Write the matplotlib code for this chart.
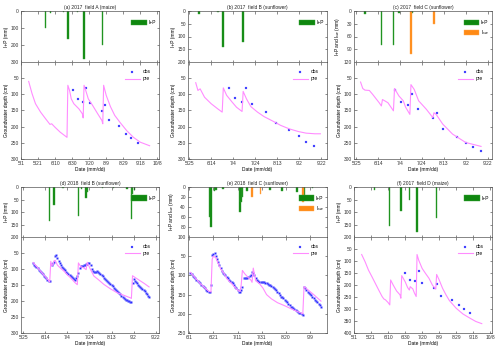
import matplotlib
matplotlib.use('Agg')
import matplotlib.pyplot as plt
import pandas as pd
from matplotlib.patches import Patch
from matplotlib.lines import Line2D

plt.rcParams['font.family'] = ['Liberation Sans', 'DejaVu Sans']
FS = 3.5

GREEN = '#0f870f'
ORANGE = '#ff8a14'
BLUE = '#2a2aff'
PINK = '#ff8cff'

# ---------------- (a) 2017 field A (maize) ----------------
a_ip_dates = ['05-30', '06-05', '06-20', '06-25', '07-06', '07-14', '08-05']
a_ip = [100, 10, 4, 165, 5, 280, 200]
a_pre_dates = ['05-10', '05-14', '05-18', '05-24', '05-30', '06-04', '06-06', '06-10', '06-16', '06-24',
               '06-25', '06-27', '06-29', '07-02', '07-08', '07-12', '07-13',
               '07-14', '07-16', '07-19', '07-24', '07-30', '08-04', '08-05',
               '08-06', '08-09', '08-14', '08-19', '08-25', '09-02', '09-10', '09-18', '09-29']
a_pre = [60, 98, 129, 155, 176, 193, 191, 202, 217, 233,
         72, 88, 114, 129, 145, 160, 173,
         72, 88, 114, 134, 160, 181, 191,
         72, 103, 138, 165, 186, 212, 233, 248, 259]
a_obs_dates = ['07-01', '07-07', '07-13', '07-16', '07-21', '08-04', '08-08', '08-12', '08-24', '09-01', '09-07', '09-15']
a_obs = [86, 114, 124, 80, 127, 153, 132, 178, 199, 222, 236, 251]

# ---------------- (b) 2017 field B (sunflower) ----------------
b_ip_dates = ['06-03', '06-20', '06-25', '07-13']
b_ip = [10, 3, 141, 121]
b_pre_dates = ['05-31', '06-02', '06-04', '06-08', '06-14', '06-20', '06-24',
               '06-25', '06-28', '07-03', '07-07', '07-12',
               '07-13', '07-16', '07-20', '07-26', '08-01', '08-09', '08-16', '08-24', '09-01', '09-08', '09-16', '09-21']
b_pre = [64, 88, 83, 109, 129, 145, 155,
         80, 103, 124, 140, 153,
         91, 114, 138, 155, 169, 183, 196, 207, 215, 220, 222, 222]
b_obs_dates = ['06-30', '07-06', '07-12', '07-16', '07-21', '08-03', '08-12', '08-24', '09-02', '09-08', '09-15']
b_obs = [81, 111, 124, 81, 129, 155, 188, 211, 230, 246, 259]

# ---------------- (c) 2017 field C (sunflower) ----------------
c_ip_dates = ['06-02', '06-17', '06-28', '07-03', '07-15']
c_ip = [8, 80, 80, 5, 5]
c_isw_dates = ['07-14', '08-04']
c_isw = [100, 31]
c_pre_dates = ['05-29', '05-31', '06-02', '06-06', '06-09', '06-15', '06-17',
               '06-18', '06-23', '06-28',
               '06-29', '07-03', '07-07', '07-09', '07-13',
               '07-14', '07-17', '07-21', '07-28', '08-03',
               '08-04', '08-06', '08-12', '08-21', '09-02', '09-16']
c_pre = [62, 82, 87, 88, 100, 126, 136,
         116, 126, 151,
         82, 105, 120, 139, 162,
         70, 85, 120, 146, 172,
         157, 162, 192, 223, 249, 261]
c_obs_dates = ['06-29', '07-05', '07-11', '07-15', '07-20', '08-03', '08-07', '08-12', '08-25', '09-02', '09-09', '09-16']
c_obs = [87, 123, 133, 98, 144, 174, 159, 207, 231, 251, 264, 276]

# ---------------- (d) 2018 field B (sunflower) ----------------
d_ip_dates = ['06-18', '06-22', '06-30', '07-14', '07-17', '07-21', '07-22', '08-05', '08-15', '08-27', '08-31', '09-01', '09-03']
d_ip = [135, 70, 4, 114, 7, 42, 20, 4, 4, 9, 129, 26, 13]
d_pre_dates = ['06-03', '06-10', '06-17', '06-18', '06-19', '06-20', '06-21', '06-22', '06-23', '06-25', '06-28',
               '07-01', '07-04', '07-07', '07-11', '07-13', '07-14', '07-16', '07-19', '07-21', '07-22',
               '07-25', '07-28', '08-01', '08-06', '08-12', '08-18', '08-24', '08-30', '08-31',
               '09-01', '09-04', '09-08', '09-12', '09-16']
d_pre = [80, 108, 136, 141, 76, 90, 86, 74, 73, 88, 98,
         107, 118, 128, 143, 149, 81, 92, 97, 102, 79,
         102, 122, 133, 148, 162, 174, 182, 190, 192,
         121, 128, 137, 146, 156]
d_obs_start = '06-03'   # daily observations
d_obs = [80, 86, 90, 94, 98, 102, 106, 109, 113, 117, 121, 125, 129, 133, 137, 138,
         84, 86, 82, 78, 60, 55, 66, 74, 82, 88, 93, 97, 101, 104, 108, 112, 115, 119,
         122, 125, 128, 131, 133, 128, 122, 112, 97, 90, 90, 90, 89, 86, 83, 83, 82, 81,
         88, 100, 105, 108, 110, 109, 107, 109, 113, 116, 120, 123, 127, 130, 133, 137,
         140, 144, 147, 151, 154, 158, 161, 165, 168, 171, 175, 179, 184, 188, 191, 194,
         196, 198, 200, 201, 203, 204, 144, 131, 136, 141, 145, 149, 152, 156, 159, 163,
         166, 170, 175, 179, 184, 188]

# ---------------- (e) 2018 field C (sunflower) ----------------
e_ip_dates = ['06-18', '06-19', '06-22', '06-23', '06-29', '07-13', '07-14', '07-15', '07-19', '08-07', '08-17', '08-29', '09-04', '09-11']
e_ip = [60, 80, 7, 5, 3, 50, 30, 20, 7, 5, 7, 9, 16, 2]
e_isw_dates = ['07-23', '07-30', '09-03']
e_isw = [20, 14, 29]
e_pre_dates = ['06-02', '06-10', '06-17', '06-19', '06-20', '06-21', '06-23', '06-24', '06-27', '06-30',
               '07-02', '07-05', '07-08', '07-11', '07-13', '07-14', '07-15', '07-17', '07-20', '07-22', '07-23',
               '07-24', '07-26', '07-29', '08-01', '08-04', '08-08', '08-13', '08-19', '08-25', '08-31', '09-03',
               '09-04', '09-07', '09-12', '09-18']
e_pre = [92, 121, 141, 143, 58, 50, 54, 62, 83, 96,
         108, 118, 128, 138, 142, 125, 87, 96, 106, 112, 118,
         81, 114, 121, 133, 150, 161, 171, 179, 188, 196, 200,
         129, 137, 150, 167]
e_obs_start = '06-02'   # daily observations
e_obs = [93, 97, 101, 105, 108, 111, 114, 118, 121, 124, 127, 131, 134, 137, 140, 142, 143,
         125, 46, 43, 42, 50, 58, 66, 73, 80, 88, 93, 97, 100, 103, 107, 111, 114, 118, 121,
         125, 129, 134, 138, 143, 143, 138, 129, 108, 106, 106, 106, 104, 102, 98, 92, 94, 100,
         106, 112, 115, 117, 117, 116, 117, 118, 119, 120, 122, 124, 126, 128, 131, 133, 136,
         139, 142, 146, 151, 155, 157, 160, 163, 167, 170, 174, 178, 181, 183, 186, 188, 191,
         194, 196, 198, 199, 200, 202, 130, 133, 138, 142, 145, 149, 152, 156, 160, 163, 167,
         170, 174, 178, 183]

# ---------------- (f) 2017 field D (maize) ----------------
f_ip_dates = ['05-25', '06-12', '06-25', '07-05', '07-14', '08-06']
f_ip = [13, 154, 95, 50, 178, 124]
f_pre_dates = ['05-10', '05-14', '05-18', '05-22', '05-26', '05-30', '06-03', '06-05', '06-07', '06-10', '06-12',
               '06-13', '06-16', '06-20', '06-24', '06-25',
               '06-26', '06-30', '07-03', '07-05', '07-06', '07-09', '07-11', '07-13',
               '07-14', '07-16', '07-20', '07-24', '07-28', '08-01', '08-04', '08-05',
               '08-06', '08-09', '08-13', '08-17', '08-21', '08-29', '09-06', '09-14', '09-21', '09-28']
f_pre = [73, 103, 138, 165, 193, 221, 248, 258, 262, 273, 283,
         179, 200, 225, 241, 255,
         161, 186, 211, 221, 207, 216, 234, 248,
         73, 97, 131, 152, 172, 200, 214, 217,
         156, 179, 214, 241, 265, 297, 321, 338, 352, 361]
f_obs_dates = ['06-30', '07-06', '07-12', '07-16', '07-20', '08-03', '08-07', '08-11', '08-24', '09-01', '09-07', '09-14']
f_obs = [148, 179, 182, 142, 190, 214, 196, 244, 261, 284, 302, 316]

# ---------------- axes settings ----------------
ticks_may1 = ['05-01', '05-21', '06-10', '06-30', '07-20', '08-09', '08-29', '09-18', '10-08']
ticks_may25 = ['05-25', '06-14', '07-04', '07-24', '08-13', '09-02', '09-22']
ticks_jun1 = ['06-01', '06-21', '07-11', '07-31', '08-20', '09-09']


def D(year, lst):
    return pd.to_datetime([f'{year}-{s}' for s in lst])


W, H = 500, 351
cols = [(21, 159), (188, 327), (354, 492)]
rows = [(11, 62, 159), (187, 237, 333)]


def style(ax):
    ax.tick_params(direction='in', length=1.8, width=0.4, labelsize=FS, pad=1.5,
                   top=True, right=True, colors='#333333')
    for s in ax.spines.values():
        s.set_linewidth(0.5)
        s.set_color('#555555')


def panel(col, row, year, title, xlim, ticks, top_ymax, top_step, bot_ymax,
          ip_dates, ip, pre_dates, pre, obs_x, obs, isw_dates=None, isw=None,
          top_label='I+P (mm)', dense=False):
    l, r = cols[col]
    t, m, b = rows[row]
    axt = fig.add_axes([l / W, 1 - m / H, (r - l) / W, (m - t) / H])
    axb = fig.add_axes([l / W, 1 - b / H, (r - l) / W, (b - m) / H], sharex=axt)
    for ax in (axt, axb):
        style(ax)
    bw = 1.3 if dense else 1.6
    axt.bar(D(year, ip_dates), ip, width=bw, color=GREEN, edgecolor='#3aa63a', linewidth=0.3)
    handles = [Patch(facecolor=GREEN, edgecolor='#3aa63a', linewidth=0.3, label='I+P')]
    if isw is not None:
        axt.bar(D(year, isw_dates), isw, width=bw, color=ORANGE, edgecolor='#ffaa55', linewidth=0.3)
        handles.append(Patch(facecolor=ORANGE, edgecolor='#ffaa55', linewidth=0.3, label='I$_{sw}$'))
    axt.set_ylim(top_ymax, 0)
    axt.set_yticks(range(0, top_ymax + 1, top_step))
    axt.tick_params(labelbottom=False)
    axt.set_ylabel(top_label, fontsize=FS, labelpad=1.5)
    axt.set_title(title, fontsize=FS, pad=1.5, color='#222222')
    axt.legend(handles=handles, loc='upper right', bbox_to_anchor=(1.0, 0.9), frameon=False,
               fontsize=FS, handlelength=3.2, handleheight=1.4, handletextpad=0.3, labelspacing=0.6,
               borderaxespad=0.3)
    ms = 1.3 if dense else 1.7
    axb.plot(obs_x, obs, ls='none', marker='s', ms=ms, mfc=BLUE, mec='#8888ff', mew=0.2, label='obs')
    axb.plot(D(year, pre_dates), pre, color=PINK, lw=0.8, label='pre')
    axb.set_ylim(bot_ymax, 0)
    axb.set_yticks(range(50, bot_ymax + 1, 50))
    axb.set_ylabel('Groundwater depth (cm)', fontsize=FS, labelpad=1.5)
    axb.set_xlabel('Date (mm/dd)', fontsize=FS, labelpad=1.0)
    hb = [Line2D([], [], ls='none', marker='s', ms=1.7, mfc=BLUE, mec='#8888ff', mew=0.2, label='obs'),
          Line2D([], [], color=PINK, lw=0.8, label='pre')]
    axb.legend(handles=hb, loc='upper right', bbox_to_anchor=(0.97, 0.97), frameon=False,
               fontsize=FS, handlelength=3.0, handletextpad=0.6, labelspacing=0.4)
    tk = D(year, ticks)
    axb.set_xticks(tk)
    axb.set_xticklabels([f'{d.month}/{d.day}' for d in tk])
    axt.set_xlim(pd.Timestamp(f'{year}-{xlim[0]}'), pd.Timestamp(f'{year}-{xlim[1]}'))
    fig.align_ylabels([axt, axb])


fig = plt.figure(figsize=(5.0, 3.51), dpi=100)

panel(0, 0, 2017, '(a) 2017  field A (maize)', ('05-01', '10-10'), ticks_may1, 300, 100, 300,
      a_ip_dates, a_ip, a_pre_dates, a_pre, D(2017, a_obs_dates), a_obs)
panel(1, 0, 2017, '(b) 2017  field B (sunflower)', ('05-24', '09-27'), ticks_may25, 200, 50, 300,
      b_ip_dates, b_ip, b_pre_dates, b_pre, D(2017, b_obs_dates), b_obs)
panel(2, 0, 2017, '(c) 2017  field C (sunflower)', ('05-23', '09-26'), ticks_may25, 120, 30, 300,
      c_ip_dates, c_ip, c_pre_dates, c_pre, D(2017, c_obs_dates), c_obs,
      isw_dates=c_isw_dates, isw=c_isw, top_label='I+P and I$_{sw}$ (mm)')
panel(0, 1, 2018, '(d) 2018  field B (sunflower)', ('05-23', '09-25'), ticks_may25, 200, 50, 300,
      d_ip_dates, d_ip, d_pre_dates, d_pre,
      pd.date_range(f'2018-{d_obs_start}', periods=len(d_obs), freq='D'), d_obs, dense=True)
panel(1, 1, 2018, '(e) 2018  field C (sunflower)', ('05-31', '09-23'), ticks_jun1, 100, 20, 250,
      e_ip_dates, e_ip, e_pre_dates, e_pre,
      pd.date_range(f'2018-{e_obs_start}', periods=len(e_obs), freq='D'), e_obs,
      isw_dates=e_isw_dates, isw=e_isw, top_label='I+P and I$_{sw}$ (mm)', dense=True)
panel(2, 1, 2017, '(f) 2017  field D (maize)', ('05-01', '10-10'), ticks_may1, 200, 50, 400,
      f_ip_dates, f_ip, f_pre_dates, f_pre, D(2017, f_obs_dates), f_obs)

fig.savefig('out.png', dpi=100)
